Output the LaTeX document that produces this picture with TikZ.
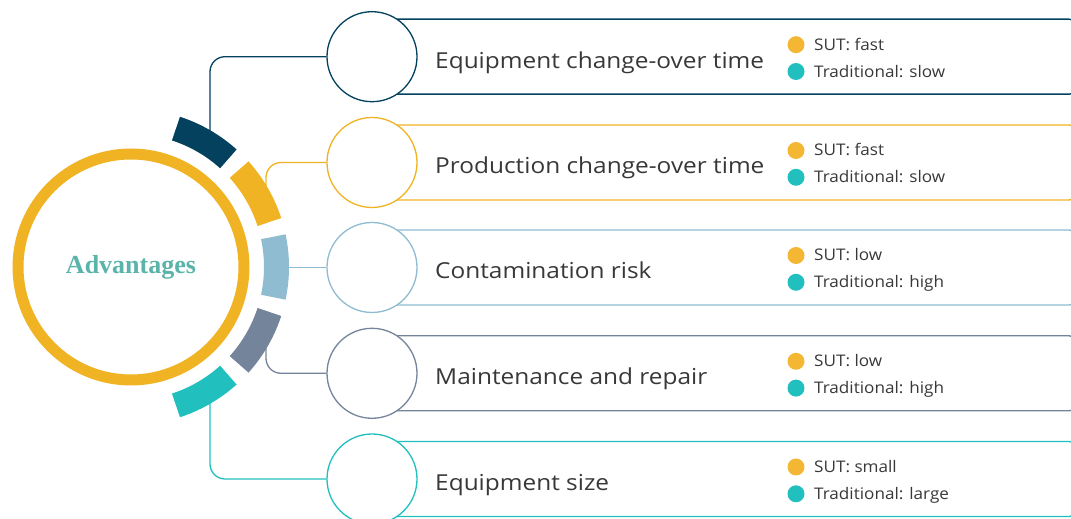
\documentclass[tikz,border=0pt]{standalone}
\usepackage{fontspec}
\setmainfont{Open Sans}
\newfontfamily\labfont[FakeStretch=1.11]{Open Sans}
\newfontfamily\bulfont[FakeStretch=1.07]{Open Sans}
\newfontfamily\advfont{Liberation Serif}
\usetikzlibrary{calc}
\definecolor{cdark}{HTML}{03415F}
\definecolor{cyellow}{HTML}{F0B323}
\definecolor{clight}{HTML}{8FBCD1}
\definecolor{cslate}{HTML}{74849A}
\definecolor{cteal}{HTML}{22BFBF}
\definecolor{cdot}{HTML}{F4B733}
\definecolor{ctext}{HTML}{383838}
\definecolor{cadv}{HTML}{5BB4A9}
\tikzset{
  rowbox/.style={line width=1.4pt, rounded corners=8pt},
  rowcircle/.style={circle, draw, line width=1.3pt, fill=white, minimum size=90pt, inner sep=0pt},
  conn/.style={line width=1.3pt, rounded corners=15pt},
  seg/.style={line width=25pt},
  label/.style={anchor=base west, text=ctext, font=\labfont\fontsize{22}{26}\selectfont, inner sep=0pt},
  bullet/.style={anchor=base west, text=ctext, font=\bulfont\fontsize{16}{19}\selectfont, inner sep=0pt},
  dot/.style={circle, inner sep=0pt, minimum size=17pt},
}
\begin{document}
\begin{tikzpicture}[x=1pt,y=1pt]
\useasboundingbox (0,0) rectangle (1071,519);
\coordinate (cen) at (131,252);
% boxes
\foreach \y/\c in {462.3/cdark, 356.5/cyellow, 251.5/clight, 145.7/cslate, 40/cteal}{
  \draw[rowbox, \c] (372,\y-37.5) rectangle (1077,\y+37.5);
}
% circles
\node[rowcircle, draw=cdark]   (c1) at (372,462.3) {};
\node[rowcircle, draw=cyellow] (c2) at (372,356.5) {};
\node[rowcircle, draw=clight]  (c3) at (372,251.5) {};
\node[rowcircle, draw=cslate]  (c4) at (372,145.7) {};
\node[rowcircle, draw=cteal]   (c5) at (372,40) {};
% connector starts
\coordinate (s1) at (210,374);
\coordinate (s2) at (266,305);
\coordinate (s3) at (272,251.5);
\coordinate (s4) at (266,199);
\coordinate (s5) at (210,130);
\draw[conn, cdark] (s1) |- (c1.west);
\draw[conn, cyellow] (s2) |- (c2.west);
\draw[conn, clight] (s3) -- (c3.west);
\draw[conn, cslate] (s4) |- (c4.west);
\draw[conn, cteal] (s5) |- (c5.west);
% segments
\foreach \a/\c in {60/cdark, 30/cyellow, 0/clight, -30/cslate, -60/cteal}{
  \draw[seg, \c] ($(cen)+(\a-12:145.5)$) arc[start angle=\a-12, end angle=\a+12, radius=145.5];
}
% big circle
\node[circle, draw=cyellow, line width=11pt, minimum size=226pt, inner sep=0pt, fill=white,
  text=cadv, font=\advfont\bfseries\fontsize{26}{30}\selectfont] (adv) at (cen) {Advantages};
% labels
\node[label] (l1) at (435,462.3-11.5) {Equipment change-over time};
\node[label] (l2) at (435,356.5-11.5) {Production change-over time};
\node[label] (l3) at (435,251.5-11.5) {Contamination risk};
\node[label] (l4) at (435,145.7-11.5) {Maintenance and repair};
\node[label] (l5) at (435,40-11.5) {Equipment size};
% bullets
\foreach \y/\n/\a/\b in {462.3/1/fast/slow, 356.5/2/fast/slow, 251.5/3/low/high, 145.7/4/low/high, 40/5/small/large}{
  \node[dot, fill=cdot] (da\n) at (796,\y+12) {};
  \node[dot, fill=cteal] (db\n) at (796,\y-14.8) {};
  \node[bullet] (ta\n) at (814,\y+6.5) {SUT: \a};
  \node[bullet] (tb\n) at (814,\y-20.5) {Traditional: \b};
}
\end{tikzpicture}
\end{document}
